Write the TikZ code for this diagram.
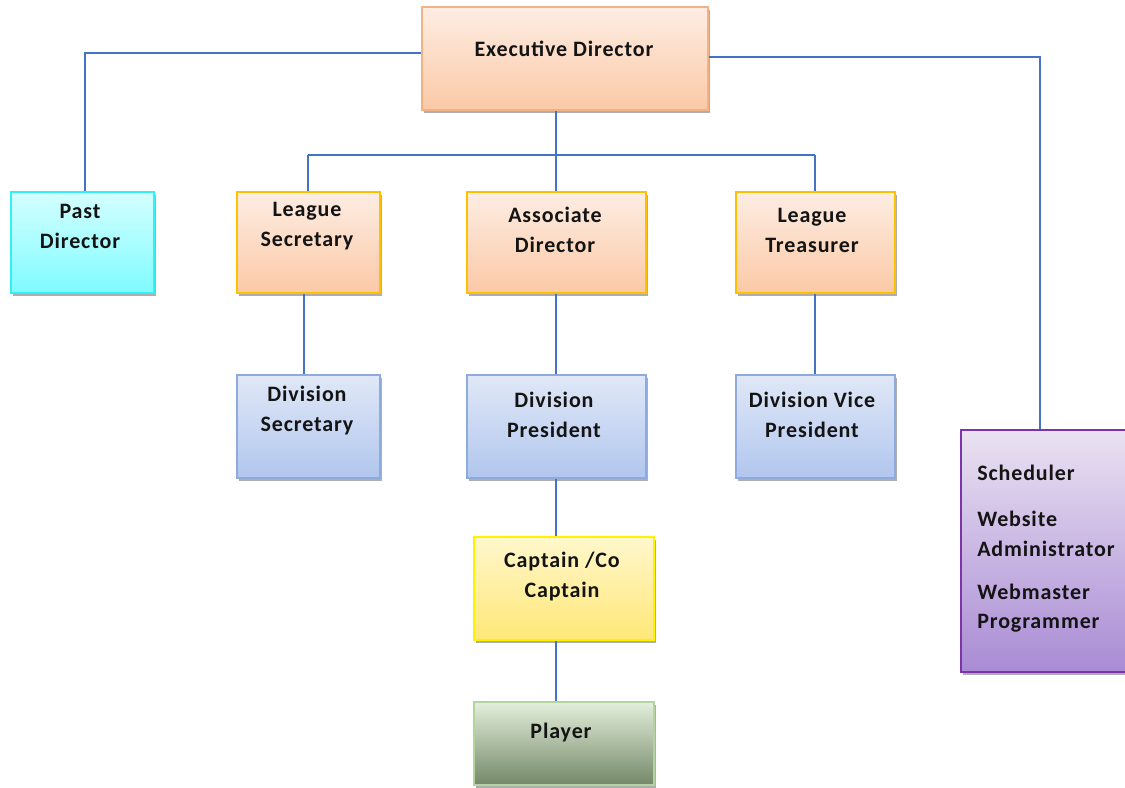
\documentclass[tikz,border=0pt]{standalone}
\usepackage{fontspec}
\setmainfont{Carlito}
\newfontfamily\boxfont[LetterSpace=4]{Carlito}
\usetikzlibrary{fit,shadows}
\definecolor{linec}{HTML}{4472C4}
\definecolor{orT}{HTML}{FDEDE3}\definecolor{orB}{HTML}{FBC9A6}\definecolor{orD}{HTML}{F4B183}
\definecolor{gold}{HTML}{FFC000}
\definecolor{cyT}{HTML}{D4FFFF}\definecolor{cyB}{HTML}{7FFBFF}\definecolor{cyD}{HTML}{33F0F8}
\definecolor{blT}{HTML}{E0E8F7}\definecolor{blB}{HTML}{B1C6EE}\definecolor{blD}{HTML}{8FAADC}
\definecolor{yeT}{HTML}{FFF7CC}\definecolor{yeB}{HTML}{FFE777}\definecolor{yeD}{HTML}{FFF200}
\definecolor{grT}{HTML}{E3EFDB}\definecolor{grB}{HTML}{748868}\definecolor{grD}{HTML}{B5D3A0}
\definecolor{puT}{HTML}{EAE2F2}\definecolor{puB}{HTML}{A98BD4}\definecolor{puD}{HTML}{7D34A8}
\begin{document}
\begin{tikzpicture}[x=0.75pt,y=-0.75pt,
  box/.style={rectangle,inner sep=0pt,line width=1.1pt,
    drop shadow={shadow xshift=1.2pt,shadow yshift=-2.4pt,opacity=0.45,fill=black!70}},
  orangebox/.style={box,draw=orD,top color=orT,bottom color=orB},
  goldbox/.style={box,draw=gold,top color=orT,bottom color=orB},
  cyanbox/.style={box,draw=cyD,top color=cyT,bottom color=cyB},
  bluebox/.style={box,draw=blD,top color=blT,bottom color=blB},
  yellowbox/.style={box,draw=yeD,top color=yeT,bottom color=yeB},
  greenbox/.style={box,draw=grD,top color=grT,bottom color=grB},
  purplebox/.style={box,draw=puD,top color=puT,bottom color=puB},
  txt/.style={font=\boxfont\bfseries\fontsize{16.5}{22.5}\selectfont,align=center,inner sep=0pt,text=black!92},
  ltxt/.style={font=\boxfont\bfseries\fontsize{16.5}{22.5}\selectfont,anchor=west,inner sep=0pt,text=black!92},
  conn/.style={draw=linec,line width=1.1pt}]
\useasboundingbox (0,0) rectangle (1125,788);
\coordinate (jl) at (308,155);
\coordinate (jr) at (815,155);
% boxes
\node[orangebox,fit={(422,7) (708,110)}] (exec) {};
\node[cyanbox,fit={(11,192) (154,293)}] (past) {};
\node[goldbox,fit={(237,192) (380,293)}] (lsec) {};
\node[goldbox,fit={(467,192) (646,293)}] (assoc) {};
\node[goldbox,fit={(736,192) (895,293)}] (ltre) {};
\node[bluebox,fit={(237,375) (380,478)}] (dsec) {};
\node[bluebox,fit={(467,375) (646,478)}] (dpres) {};
\node[bluebox,fit={(736,375) (895,478)}] (dvp) {};
\node[yellowbox,fit={(474,537) (654,640)}] (capt) {};
\node[greenbox,fit={(474,702) (654,785)}] (player) {};
\node[purplebox,fit={(961,430) (1130,672)}] (staff) {};
% connectors
\draw[conn] (exec.west |- 0,53) -| (past.north -| 85,0);
\draw[conn] (exec.east |- 0,57) -| (staff.north -| 1040,0);
\draw[conn] (exec.south -| 556,0) -- (assoc.north -| 556,0);
\draw[conn] (jl) -- (jr);
\draw[conn] (jl) -- (lsec.north -| 308,0);
\draw[conn] (jr) -- (ltre.north -| 815,0);
\draw[conn] (lsec.south -| 304,0) -- (dsec.north -| 304,0);
\draw[conn] (assoc.south -| 556,0) -- (dpres.north -| 556,0);
\draw[conn] (ltre.south -| 815,0) -- (dvp.north -| 815,0);
\draw[conn] (dpres.south -| 556,0) -- (capt.north -| 556,0);
\draw[conn] (capt.south -| 556,0) -- (player.north -| 556,0);
% texts
\node[txt] (t1) at (564,49) {Executive Director};
\node[txt] (t2) at (80,226) {Past\\Director};
\node[txt] (t3) at (307,226) {League\\Secretary};
\node[txt] (t4) at (555,230) {Associate\\Director};
\node[txt] (t5) at (812,230) {League\\Treasurer};
\node[txt] (t6) at (307,411) {Division\\Secretary};
\node[txt] (t7) at (554,415) {Division\\President};
\node[txt] (t8) at (812,415) {Division Vice\\President};
\node[txt] (t9) at (562,577) {Captain /Co\\Captain};
\node[txt] (t10) at (561,733) {Player};
\node[ltxt] (s1) at (977,473) {Scheduler};
\node[ltxt] (s2) at (977,519) {Website};
\node[ltxt] (s3) at (977,549) {Administrator};
\node[ltxt] (s4) at (977,592) {Webmaster};
\node[ltxt] (s5) at (977,623) {Programmer};
\end{tikzpicture}
\end{document}
